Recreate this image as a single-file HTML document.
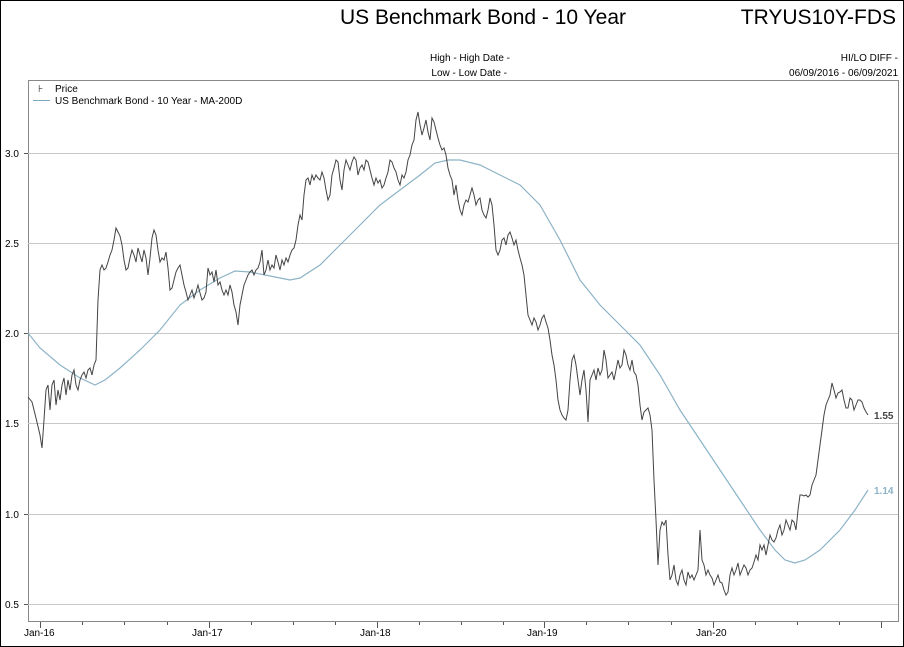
<!DOCTYPE html>
<html><head><style>
body{margin:0;background:#fff;font-family:"Liberation Sans",sans-serif;}
.wrap{position:relative;width:904px;height:647px;overflow:hidden;}
</style></head><body><div class="wrap">
<svg width="904" height="647" xmlns="http://www.w3.org/2000/svg" font-family="Liberation Sans, sans-serif">
<rect x="0.5" y="0.5" width="903" height="646" fill="#fff" stroke="#000"/>
<text x="626" y="24" font-size="21" text-anchor="end" fill="#000">US Benchmark Bond - 10 Year</text>
<text x="896" y="24" font-size="21" text-anchor="end" fill="#000">TRYUS10Y-FDS</text>
<text x="510" y="61" font-size="10" text-anchor="end">High - High Date -</text>
<text x="507" y="76" font-size="10" text-anchor="end">Low - Low Date -</text>
<text x="898" y="61" font-size="10" text-anchor="end">HI/LO DIFF -</text>
<text x="898" y="76" font-size="10" text-anchor="end">06/09/2016 - 06/09/2021</text>
<rect x="28.5" y="80.5" width="870" height="541" fill="none" stroke="#888"/>
<g stroke="#c8c8c8" stroke-width="1">
<line x1="28" y1="153.5" x2="898" y2="153.5"/><line x1="28" y1="243.5" x2="898" y2="243.5"/>
<line x1="28" y1="333.5" x2="898" y2="333.5"/><line x1="28" y1="423.5" x2="898" y2="423.5"/>
<line x1="28" y1="514.5" x2="898" y2="514.5"/><line x1="28" y1="604.5" x2="898" y2="604.5"/>
</g>
<g font-size="10" fill="#000">
<text x="5" y="157">3.0</text><text x="5" y="247">2.5</text><text x="5" y="337">2.0</text>
<text x="5" y="427">1.5</text><text x="5" y="518">1.0</text><text x="5" y="608">0.5</text>
<text x="24" y="636">Jan-16</text><text x="192" y="636">Jan-17</text><text x="360" y="636">Jan-18</text>
<text x="527" y="636">Jan-19</text><text x="696" y="636">Jan-20</text>
</g>
<g stroke="#555" stroke-width="1">
<line x1="40.5" y1="622" x2="40.5" y2="628"/><line x1="209.5" y1="622" x2="209.5" y2="628"/>
<line x1="377.5" y1="622" x2="377.5" y2="628"/><line x1="544.5" y1="622" x2="544.5" y2="628"/>
<line x1="713.5" y1="622" x2="713.5" y2="628"/><line x1="881.5" y1="622" x2="881.5" y2="628"/>
<line x1="82.5" y1="622" x2="82.5" y2="625"/><line x1="124.5" y1="622" x2="124.5" y2="625"/><line x1="167.5" y1="622" x2="167.5" y2="625"/>
<line x1="251.5" y1="622" x2="251.5" y2="625"/><line x1="293.5" y1="622" x2="293.5" y2="625"/><line x1="335.5" y1="622" x2="335.5" y2="625"/>
<line x1="419.5" y1="622" x2="419.5" y2="625"/><line x1="461.5" y1="622" x2="461.5" y2="625"/><line x1="503.5" y1="622" x2="503.5" y2="625"/>
<line x1="586.5" y1="622" x2="586.5" y2="625"/><line x1="628.5" y1="622" x2="628.5" y2="625"/><line x1="671.5" y1="622" x2="671.5" y2="625"/>
<line x1="755.5" y1="622" x2="755.5" y2="625"/><line x1="797.5" y1="622" x2="797.5" y2="625"/><line x1="839.5" y1="622" x2="839.5" y2="625"/>
<line x1="24" y1="153.5" x2="28" y2="153.5"/><line x1="24" y1="333.5" x2="28" y2="333.5"/><line x1="24" y1="514.5" x2="28" y2="514.5"/><line x1="24" y1="604.5" x2="28" y2="604.5"/>
</g>
<text x="38" y="92" font-size="10" fill="#333">⊦</text>
<text x="55" y="92" font-size="10">Price</text>
<line x1="33" y1="100.5" x2="50" y2="100.5" stroke="#7fa9c0"/>
<text x="55" y="104" font-size="10">US Benchmark Bond - 10 Year - MA-200D</text>
<polyline fill="none" stroke="#8db3c7" stroke-width="1.2" points="28,333 40,348 60,365 80,378 95,385 105,380 120,368 140,350 160,330 180,305 200,290 220,278 235,271 250,272 270,276 290,280 300,278 320,265 340,245 360,225 380,205 400,190 420,175 435,163 448,160 460,160 480,165 500,175 520,185 540,205 560,240 580,280 600,305 620,325 640,345 660,375 680,410 700,440 720,470 740,500 760,530 775,550 785,560 795,563 805,560 820,550 840,530 855,510 868,490"/>
<polyline fill="none" stroke="#444" stroke-width="1" points="28,397 32,402 36,418 40,435 42,448 44,420 46,390 48,385 50,410 52,385 54,380 56,405 58,390 60,400 62,385 64,378 66,395 68,380 70,390 72,375 74,370 76,385 78,390 80,380 82,375 84,372 86,378 88,370 90,368 92,375 94,365 96,360 98,300 100,270 102,265 104,270 106,268 108,262 110,255 112,250 114,240 116,228 118,232 120,236 122,245 124,260 126,270 128,268 130,258 132,250 134,255 136,262 138,248 140,255 142,262 144,250 146,258 148,275 150,258 152,238 154,230 156,235 158,250 160,262 162,258 164,260 166,252 168,268 170,290 172,288 174,280 176,272 178,268 180,265 182,275 184,285 186,292 188,300 190,295 192,290 194,298 196,292 198,285 200,293 202,300 204,298 206,292 208,268 210,275 212,272 214,282 216,270 218,285 220,282 222,290 224,295 226,290 228,295 230,285 232,292 234,305 236,312 238,325 240,305 242,295 244,285 246,280 248,275 250,272 252,270 254,275 256,270 258,268 260,262 262,250 264,275 266,270 268,260 270,270 272,265 274,268 276,255 278,262 280,270 282,260 284,265 286,258 288,262 290,255 292,250 294,248 296,240 298,225 300,215 302,220 304,195 306,180 308,178 310,185 312,175 314,180 316,175 318,178 320,180 322,172 324,178 326,190 328,200 330,195 332,175 334,168 336,160 338,162 340,180 342,190 344,170 346,160 348,165 350,170 352,162 354,157 356,160 358,175 360,168 362,165 364,170 366,160 368,162 370,170 372,178 374,185 376,178 378,183 380,180 382,188 384,185 386,178 388,172 390,160 392,162 394,168 396,172 398,180 400,185 402,175 404,178 406,172 408,160 410,155 412,145 414,140 416,120 418,112 420,125 422,135 424,128 426,120 428,132 430,140 432,118 434,122 436,130 438,138 440,145 442,150 444,148 446,155 448,168 450,175 452,180 454,195 456,185 458,200 460,210 462,215 464,205 466,200 468,202 470,195 472,188 474,195 476,205 478,200 480,198 482,210 484,215 486,218 488,210 490,198 492,205 494,225 496,250 498,255 500,250 502,240 504,238 506,245 508,235 510,232 512,238 514,245 516,240 518,250 520,258 522,265 524,275 526,295 528,315 530,320 532,325 534,318 536,322 538,330 540,325 542,318 544,315 546,322 548,328 550,340 552,355 554,365 556,380 558,400 560,410 562,415 564,418 566,420 568,410 570,380 572,360 574,355 576,365 578,380 580,395 582,380 584,370 586,390 588,422 590,380 592,375 594,370 596,380 598,368 600,375 602,370 604,350 606,360 608,378 610,375 612,372 614,380 616,370 618,360 620,368 622,365 624,350 626,355 628,365 630,370 632,360 634,372 636,375 638,385 640,405 642,420 644,412 646,410 648,408 650,415 652,430 654,480 656,520 658,565 660,530 662,522 664,525 666,520 668,555 670,580 672,575 674,565 676,580 678,585 680,575 682,570 684,580 686,585 688,572 690,578 692,575 694,580 696,575 698,570 700,530 702,560 704,565 706,575 708,570 710,575 712,578 714,585 716,580 718,575 720,582 722,583 724,590 726,595 728,592 730,575 732,568 734,575 736,570 738,563 740,575 742,570 744,565 746,568 748,575 750,570 752,568 754,562 756,555 758,560 760,545 762,550 764,545 766,555 768,545 770,535 772,540 774,542 776,538 778,530 780,525 782,535 784,530 786,520 788,525 790,530 792,520 794,522 796,530 798,510 800,495 802,495 804,496 806,495 808,497 810,495 812,485 814,480 816,475 818,460 820,445 822,430 824,415 826,405 828,400 830,395 832,383 834,390 836,398 838,393 840,392 842,390 844,400 846,408 848,408 850,398 852,400 854,410 856,405 858,400 860,400 862,402 864,408 866,412 868,415"/>
<text x="874" y="419" font-size="10" font-weight="bold" fill="#444">1.55</text>
<text x="874" y="494" font-size="10" font-weight="bold" fill="#8db3c7">1.14</text>
</svg>
</div></body></html>
